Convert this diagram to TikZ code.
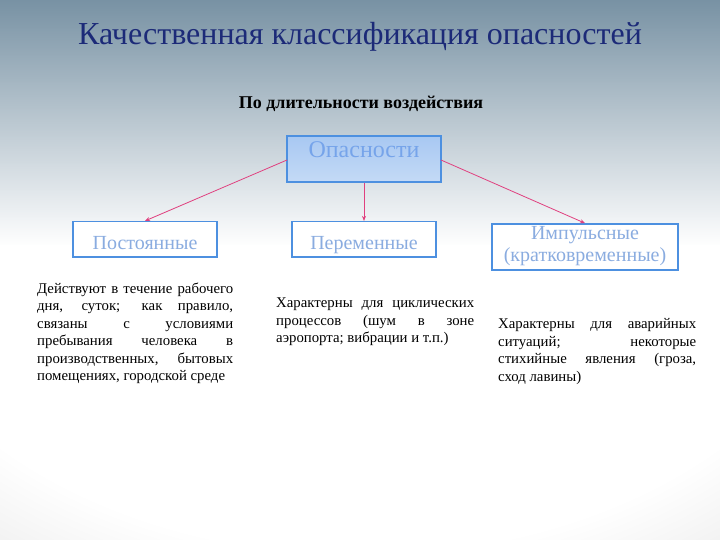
\documentclass[tikz,border=0pt]{standalone}
\usepackage{fontspec}
\setmainfont{Liberation Serif}
\usetikzlibrary{arrows.meta,fadings}
\definecolor{titleblue}{RGB}{28,42,120}
\definecolor{boxborder}{RGB}{77,144,224}
\definecolor{boxtext}{RGB}{138,172,224}
\definecolor{toptext}{RGB}{118,164,234}
\definecolor{arrowpink}{RGB}{224,64,127}
\definecolor{bgtop}{RGB}{120,146,164}
\definecolor{bggray}{RGB}{240,240,240}
\tikzfading[name=topfade, top color=transparent!0, middle color=transparent!62, bottom color=transparent!100]
\begin{document}
\begin{tikzpicture}[x=1pt,y=-1pt,
  catbox/.style={draw=boxborder,line width=1.6pt,fill=white,inner sep=0pt,
    text=boxtext,font=\fontsize{20}{22}\selectfont,align=center},
  conn/.style={draw=arrowpink,line width=0.8pt,-{Stealth[length=5pt,width=4pt]}},
  desc/.style={anchor=base west,inner sep=0pt,align=justify,
    font=\fontsize{14.8}{17.5}\selectfont}]
\useasboundingbox (0,0) rectangle (720,540);
% background
\fill[bggray] (0,0) rectangle (720,540);
\fill[white,path fading=circle with fuzzy edge 20 percent] (360,210) ellipse [x radius=620,y radius=430];
\fill[bgtop,path fading=topfade] (0,0) rectangle (720,245);
% title
\node[text=titleblue,font=\fontsize{32}{34}\selectfont,anchor=base] (title) at (360,44.5) {Качественная классификация опасностей};
\node[font=\bfseries\fontsize{18}{20}\selectfont,anchor=base] (sub) at (361,109) {По длительности воздействия};
% top box
\node[draw=boxborder,line width=1.6pt,top color={rgb,255:red,168;green,200;blue,242},
  bottom color={rgb,255:red,196;green,218;blue,246},
  minimum width=154pt,minimum height=46pt,inner sep=0pt,
  text=toptext,font=\fontsize{24}{26}\selectfont,text height=16pt,text depth=19pt] (hz) at (364,159) {Опасности};
% category boxes
\node[catbox,minimum width=144pt,minimum height=35pt,text height=20pt,text depth=0pt] (c1) at (145,239.2) {Постоянные};
\node[catbox,minimum width=144pt,minimum height=35pt,text height=20pt,text depth=0pt] (c2) at (364,239.2) {Переменные};
\node[catbox,minimum width=186pt,minimum height=46pt,text height=37pt,text depth=8pt] (c3) at (585,247) {Импульсные\\(кратковременные)};
% connectors
\coordinate (hzL) at (287,160);
\coordinate (hzR) at (441,160);
\draw[conn] (hzL) -- (c1.north);
\draw[conn] (hz.south) -- (c2.north);
\draw[conn] (hzR) -- (c3.north);
% descriptions
\node[desc,text width=196pt] (d1) at (37,293) {Действуют в течение рабочего\linebreak дня, суток; как правило,\linebreak связаны с условиями\linebreak пребывания человека в\linebreak производственных, бытовых\linebreak помещениях, городской среде};
\node[desc,text width=198pt] (d2) at (276,307.5) {Характерны для циклических\linebreak процессов (шум в зоне\linebreak аэропорта; вибрации и т.п.)};
\node[desc,text width=198pt] (d3) at (498,328.5) {Характерны для аварийных\linebreak ситуаций; некоторые\linebreak стихийные явления (гроза,\linebreak сход лавины)};
\end{tikzpicture}
\end{document}
